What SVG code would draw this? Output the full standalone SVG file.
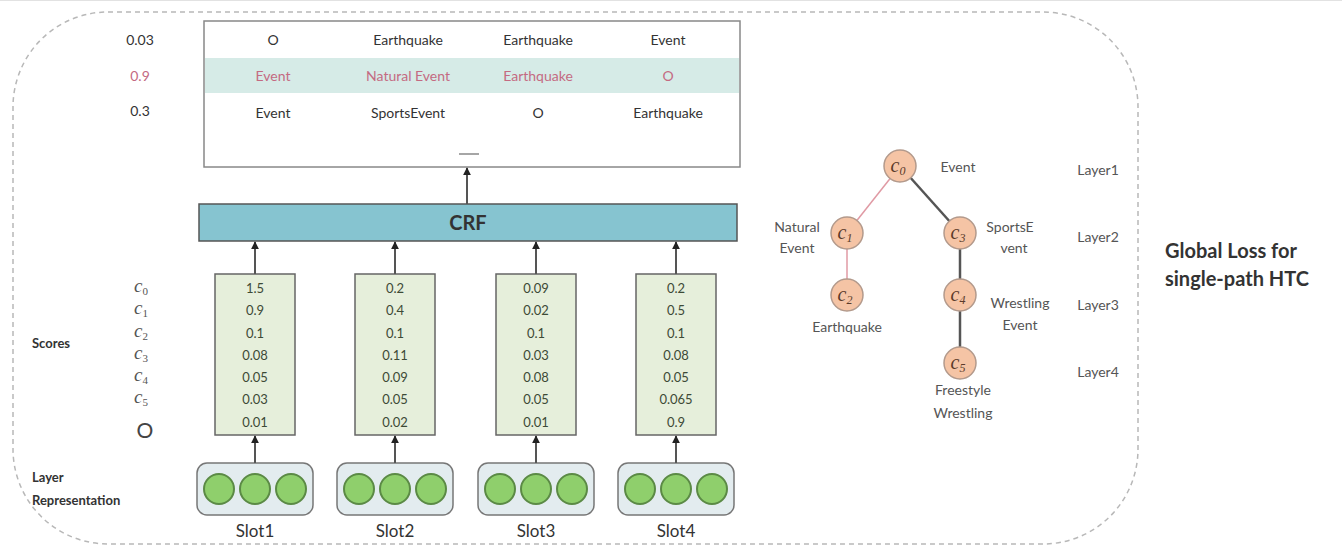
<svg xmlns="http://www.w3.org/2000/svg" width="1342" height="547" viewBox="0 0 1342 547">
  <style>
    .t { font-family: Lato, "Liberation Sans", sans-serif; fill: #333; }
    .tbl { font-size: 14px; text-anchor: middle; }
    .pink { fill: #c46a82; }
    .val { font-family: Lato, "Liberation Sans", sans-serif; font-size: 13px; fill: #3d4a36; text-anchor: middle; }
    .sbox { fill: #e6efdb; stroke: #666; stroke-width: 1.5; }
    .rep { fill: #e3ecef; stroke: #777; stroke-width: 1.5; }
    .dot { fill: #8fcf6c; stroke: #5b8a45; stroke-width: 2; }
    .ci { font-family: "Liberation Serif", serif; font-style: italic; fill: #555; }
    .node { fill: #f5c4a5; stroke: #b39a8c; stroke-width: 1.5; }
    .nl { font-family: "Liberation Serif", serif; font-style: italic; fill: #5a3a2a; text-anchor: middle; }
    .lbl { font-family: Lato, "Liberation Sans", sans-serif; font-size: 14px; fill: #555; text-anchor: middle; }
    .arrow { stroke: #555; stroke-width: 2; fill: none; marker-end: url(#ah); }
    .bold { font-family: Lato, "Liberation Sans", sans-serif; font-weight: bold; fill: #333; }
  </style>
  <defs>
    <marker id="ah" viewBox="0 0 10 10" refX="9" refY="5" markerWidth="4" markerHeight="4" orient="auto">
      <path d="M0,0 L10,5 L0,10 z" fill="#222"/>
    </marker>
  </defs>

  <rect width="1342" height="547" fill="#fff"/>
  <line x1="0" y1="0.5" x2="1342" y2="0.5" stroke="#e2e2e2" stroke-width="1"/>

  <!-- dashed frame around the whole model -->
  <rect x="13" y="12" width="1125" height="532" rx="95" ry="95" fill="none" stroke="#b8b8b8" stroke-width="1.5" stroke-dasharray="5 4"/>

  <!-- path score labels -->
  <g id="path-scores" class="t" font-size="14" text-anchor="middle">
    <text x="140" y="45">0.03</text>
    <text x="140" y="81" class="pink">0.9</text>
    <text x="140" y="116">0.3</text>
  </g>

  <!-- candidate label paths -->
  <g id="paths">
    <rect x="204" y="21" width="536" height="146" fill="#fff" stroke="#888" stroke-width="1.5"/>
    <rect x="205" y="58" width="534" height="35" fill="#d6ebe7"/>
    <g class="t tbl">
      <text x="273" y="45">O</text>
      <text x="408" y="45">Earthquake</text>
      <text x="538" y="45">Earthquake</text>
      <text x="668" y="45">Event</text>
      <text x="273" y="81" class="pink">Event</text>
      <text x="408" y="81" class="pink">Natural Event</text>
      <text x="538" y="81" class="pink">Earthquake</text>
      <text x="668" y="81" class="pink">O</text>
      <text x="273" y="118">Event</text>
      <text x="408" y="118">SportsEvent</text>
      <text x="538" y="118">O</text>
      <text x="668" y="118">Earthquake</text>
    </g>
    <line x1="459" y1="154" x2="479" y2="154" stroke="#888" stroke-width="1.5"/>
  </g>

  <!-- CRF layer -->
  <g id="crf">
    <rect x="199" y="204" width="538" height="37" fill="#86c4d0" stroke="#555" stroke-width="1.5"/>
    <text x="468" y="230" class="bold" font-size="20" text-anchor="middle" fill="#1c2b30">CRF</text>
  </g>

  <!-- left-side captions -->
  <g id="captions">
    <text x="32" y="348" class="bold" font-size="13">Scores</text>
    <text x="32" y="482" class="bold" font-size="13">Layer</text>
    <text x="32" y="505" class="bold" font-size="13">Representation</text>
  </g>

  <!-- class index labels -->
  <g id="class-labels" class="ci" font-size="19" text-anchor="middle">
    <text x="141" y="292">c<tspan font-size="11" dy="3" font-style="normal">0</tspan></text>
    <text x="141" y="314">c<tspan font-size="11" dy="3" font-style="normal">1</tspan></text>
    <text x="141" y="337">c<tspan font-size="11" dy="3" font-style="normal">2</tspan></text>
    <text x="141" y="359">c<tspan font-size="11" dy="3" font-style="normal">3</tspan></text>
    <text x="141" y="381">c<tspan font-size="11" dy="3" font-style="normal">4</tspan></text>
    <text x="141" y="403">c<tspan font-size="11" dy="3" font-style="normal">5</tspan></text>
    <text x="145" y="438" font-family="Lato, 'Liberation Sans', sans-serif" font-style="normal" font-size="21" fill="#444">O</text>
  </g>

  <!-- score columns -->
  <g id="scores1">
    <rect class="sbox" x="215" y="274" width="80" height="161"/>
    <g class="val">
      <text x="255" y="293">1.5</text><text x="255" y="315">0.9</text><text x="255" y="338">0.1</text>
      <text x="255" y="360">0.08</text><text x="255" y="382">0.05</text><text x="255" y="404">0.03</text><text x="255" y="427">0.01</text>
    </g>
  </g>
  <g id="scores2">
    <rect class="sbox" x="355" y="274" width="80" height="161"/>
    <g class="val">
      <text x="395" y="293">0.2</text><text x="395" y="315">0.4</text><text x="395" y="338">0.1</text>
      <text x="395" y="360">0.11</text><text x="395" y="382">0.09</text><text x="395" y="404">0.05</text><text x="395" y="427">0.02</text>
    </g>
  </g>
  <g id="scores3">
    <rect class="sbox" x="496" y="274" width="80" height="161"/>
    <g class="val">
      <text x="536" y="293">0.09</text><text x="536" y="315">0.02</text><text x="536" y="338">0.1</text>
      <text x="536" y="360">0.03</text><text x="536" y="382">0.08</text><text x="536" y="404">0.05</text><text x="536" y="427">0.01</text>
    </g>
  </g>
  <g id="scores4">
    <rect class="sbox" x="636" y="274" width="80" height="161"/>
    <g class="val">
      <text x="676" y="293">0.2</text><text x="676" y="315">0.5</text><text x="676" y="338">0.1</text>
      <text x="676" y="360">0.08</text><text x="676" y="382">0.05</text><text x="676" y="404">0.065</text><text x="676" y="427">0.9</text>
    </g>
  </g>

  <!-- slot representations -->
  <g id="slot1">
    <rect class="rep" x="197" y="463" width="116" height="52" rx="10"/>
    <circle class="dot" cx="219" cy="489" r="15"/><circle class="dot" cx="255" cy="489" r="15"/><circle class="dot" cx="291" cy="489" r="15"/>
    <text x="255" y="537" class="t" font-size="17" text-anchor="middle">Slot1</text>
  </g>
  <g id="slot2">
    <rect class="rep" x="337" y="463" width="116" height="52" rx="10"/>
    <circle class="dot" cx="359" cy="489" r="15"/><circle class="dot" cx="395" cy="489" r="15"/><circle class="dot" cx="431" cy="489" r="15"/>
    <text x="395" y="537" class="t" font-size="17" text-anchor="middle">Slot2</text>
  </g>
  <g id="slot3">
    <rect class="rep" x="478" y="463" width="116" height="52" rx="10"/>
    <circle class="dot" cx="500" cy="489" r="15"/><circle class="dot" cx="536" cy="489" r="15"/><circle class="dot" cx="572" cy="489" r="15"/>
    <text x="536" y="537" class="t" font-size="17" text-anchor="middle">Slot3</text>
  </g>
  <g id="slot4">
    <rect class="rep" x="618" y="463" width="116" height="52" rx="10"/>
    <circle class="dot" cx="640" cy="489" r="15"/><circle class="dot" cx="676" cy="489" r="15"/><circle class="dot" cx="712" cy="489" r="15"/>
    <text x="676" y="537" class="t" font-size="17" text-anchor="middle">Slot4</text>
  </g>

  <!-- data-flow arrows -->
  <g id="connectors">
    <line class="arrow" x1="255" y1="463" x2="255" y2="436"/>
    <line class="arrow" x1="395" y1="463" x2="395" y2="436"/>
    <line class="arrow" x1="536" y1="463" x2="536" y2="436"/>
    <line class="arrow" x1="676" y1="463" x2="676" y2="436"/>
    <line class="arrow" x1="255" y1="274" x2="255" y2="242"/>
    <line class="arrow" x1="395" y1="274" x2="395" y2="242"/>
    <line class="arrow" x1="536" y1="274" x2="536" y2="242"/>
    <line class="arrow" x1="676" y1="274" x2="676" y2="242"/>
    <line class="arrow" x1="467" y1="204" x2="467" y2="168"/>
    <!-- hierarchy edges -->
    <line x1="900" y1="166" x2="847" y2="233" stroke="#e09aa4" stroke-width="1.5"/>
    <line x1="847" y1="233" x2="847" y2="295" stroke="#e09aa4" stroke-width="1.5"/>
    <line x1="900" y1="166" x2="960" y2="233" stroke="#555" stroke-width="2.5"/>
    <line x1="960" y1="233" x2="960" y2="295" stroke="#555" stroke-width="2.5"/>
    <line x1="960" y1="295" x2="960" y2="363" stroke="#555" stroke-width="2.5"/>
  </g>

  <!-- label hierarchy -->
  <g id="c0">
    <circle class="node" cx="900" cy="166" r="16"/>
    <text class="nl" x="898" y="172" font-size="20">c<tspan font-size="12" dy="3">0</tspan></text>
    <text class="lbl" x="958" y="172">Event</text>
  </g>
  <g id="c1">
    <circle class="node" cx="847" cy="233" r="16"/>
    <text class="nl" x="845" y="239" font-size="20">c<tspan font-size="12" dy="3">1</tspan></text>
    <text class="lbl" x="797" y="232">Natural</text>
    <text class="lbl" x="797" y="253">Event</text>
  </g>
  <g id="c2">
    <circle class="node" cx="847" cy="295" r="16"/>
    <text class="nl" x="845" y="301" font-size="20">c<tspan font-size="12" dy="3">2</tspan></text>
    <text class="lbl" x="847" y="332">Earthquake</text>
  </g>
  <g id="c3">
    <circle class="node" cx="960" cy="233" r="16"/>
    <text class="nl" x="958" y="239" font-size="20">c<tspan font-size="12" dy="3">3</tspan></text>
    <text class="lbl" x="1010" y="232">SportsE</text>
    <text class="lbl" x="1014" y="253">vent</text>
  </g>
  <g id="c4">
    <circle class="node" cx="960" cy="295" r="16"/>
    <text class="nl" x="958" y="301" font-size="20">c<tspan font-size="12" dy="3">4</tspan></text>
    <text class="lbl" x="1020" y="308">Wrestling</text>
    <text class="lbl" x="1020" y="330">Event</text>
  </g>
  <g id="c5">
    <circle class="node" cx="960" cy="363" r="16"/>
    <text class="nl" x="958" y="369" font-size="20">c<tspan font-size="12" dy="3">5</tspan></text>
    <text class="lbl" x="963" y="395">Freestyle</text>
    <text class="lbl" x="963" y="418">Wrestling</text>
  </g>

  <!-- layer indices -->
  <g id="layers" class="lbl" font-size="15">
    <text x="1098" y="175">Layer1</text>
    <text x="1098" y="242">Layer2</text>
    <text x="1098" y="310">Layer3</text>
    <text x="1098" y="377">Layer4</text>
  </g>

  <g id="title">
    <text x="1165" y="258" class="bold" font-size="20">Global Loss for</text>
    <text x="1165" y="286" class="bold" font-size="20">single-path HTC</text>
  </g>
</svg>
